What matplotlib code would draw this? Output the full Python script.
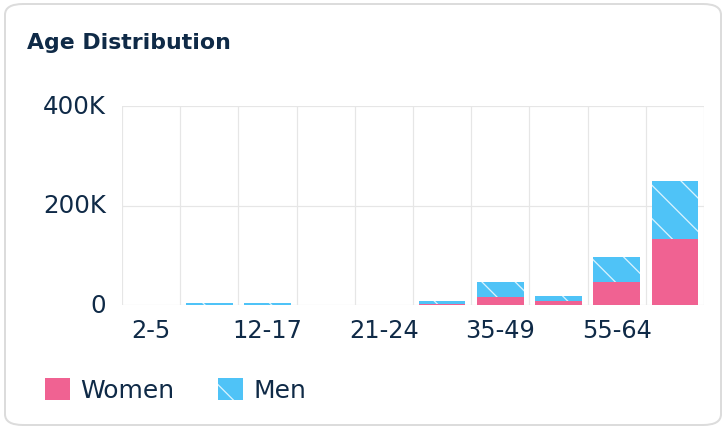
import matplotlib
matplotlib.use("Agg")
import matplotlib.pyplot as plt
import numpy as np
from matplotlib.patches import FancyBboxPatch, Patch

categories = ["2-5", "6-11", "12-17", "18-20", "21-24", "25-34", "35-49", "50-54", "55-64", "65+"]
women = [0, 0, 0, 0, 0, 3000, 17000, 9000, 47000, 133000]
men = [0, 4000, 4000, 0, 0, 6000, 30000, 10000, 50000, 116000]
y_ticks = [0, 200000, 400000]
y_tick_labels = ["0", "200K", "400K"]
title = "Age Distribution"

DPI = 100
PT = 72.0 / DPI  # points per pixel
TXT = "#0f2a47"
PINK = "#f06292"
BLUE = "#4fc3f7"
GRID = "#e6e6e6"

plt.rcParams["font.family"] = ["DejaVu Sans"]
plt.rcParams["hatch.color"] = "#d8f2fe"
plt.rcParams["hatch.linewidth"] = 1.3 * PT

fig = plt.figure(figsize=(726 / DPI, 431 / DPI), dpi=DPI)

# card border
card = FancyBboxPatch((5 / 726, 5 / 431), 716 / 726, 421 / 431,
                      boxstyle="round,pad=0,rounding_size=0.025",
                      transform=fig.transFigure, facecolor="white",
                      edgecolor="#dcdcdc", linewidth=2 * PT, zorder=-5)
fig.patches.append(card)

fig.text(27 / 726, 1 - 43 / 431, title, fontsize=22 * PT, fontweight="bold",
         color=TXT, va="center", ha="left")

ax = fig.add_axes([122 / 726, 1 - 306 / 431, 582 / 726, 199 / 431])
ax.set_facecolor("none")
x = np.arange(len(categories))
ax.bar(x, women, width=0.8, color=PINK, linewidth=0, zorder=3)
ax.bar(x, men, width=0.8, bottom=women, color=BLUE, linewidth=0,
       hatch="\\", zorder=3)

ax.set_xlim(-0.5, len(categories) - 0.5)
ax.set_ylim(0, 400000)
ax.set_yticks(y_ticks)
ax.set_yticklabels(y_tick_labels)
ax.set_xticks(x)
ax.set_xticklabels([c if i % 2 == 0 else "" for i, c in enumerate(categories)])
for xv in np.arange(-0.5, len(categories), 1.0):
    ax.axvline(xv, color=GRID, linewidth=1.2 * PT, zorder=1)
for yv in y_ticks:
    ax.axhline(yv, color=GRID, linewidth=1.2 * PT, zorder=1)
for s in ax.spines.values():
    s.set_visible(False)
ax.tick_params(axis="both", length=0, colors=TXT)
ax.tick_params(axis="y", pad=16 * PT, labelsize=24.5 * PT)
ax.tick_params(axis="x", pad=13 * PT, labelsize=24 * PT)
for lbl in ax.get_yticklabels():
    lbl.set_va("center")

handles = [Patch(facecolor=PINK, linewidth=0),
           Patch(facecolor=BLUE, linewidth=0, hatch="\\")]
leg = fig.legend(handles, ["Women", "Men"], loc="center left",
                 bbox_to_anchor=(45 / 726, 1 - 391 / 431), ncol=2, frameon=False,
                 fontsize=25 * PT, handlelength=1.0, handleheight=1.0,
                 handletextpad=0.4, columnspacing=1.76, borderpad=0,
                 borderaxespad=0)
for t in leg.get_texts():
    t.set_color(TXT)

fig.savefig("out.png", dpi=DPI)
